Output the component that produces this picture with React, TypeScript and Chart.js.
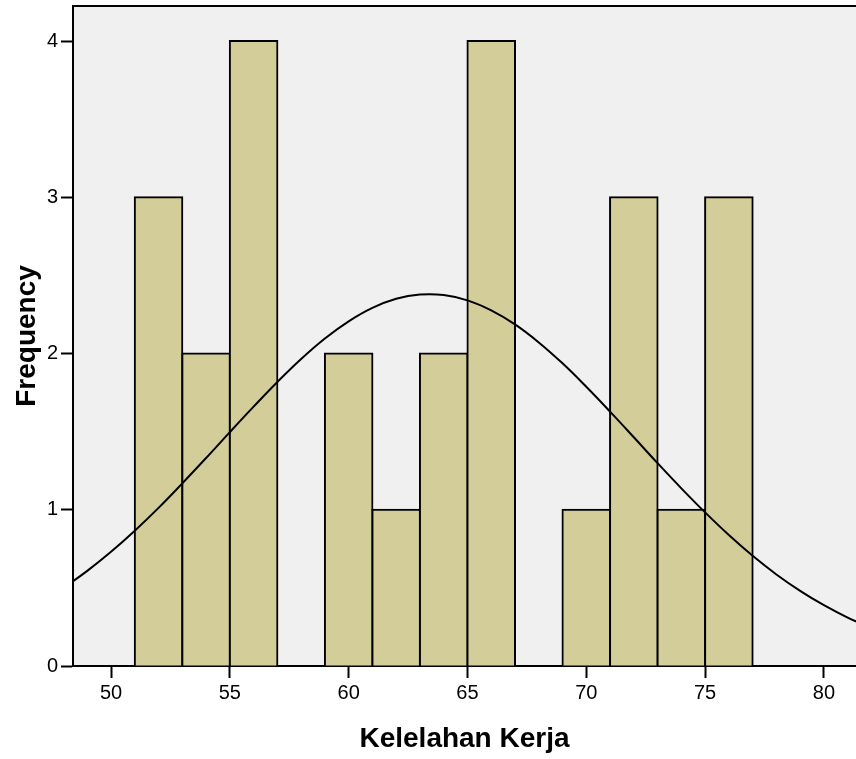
import React, { useEffect, useRef } from "react";
import { Chart, registerables } from "chart.js";

Chart.register(...registerables);

// Histogram bins (centre of each 2-unit bin) and frequencies
const binCenters = [52, 54, 56, 60, 62, 64, 66, 70, 72, 74, 76];
const frequencies = [3, 2, 4, 2, 1, 2, 4, 1, 3, 1, 3];

// Normal curve
const curveX = [48, 49, 50, 51, 52, 53, 54, 55, 56, 57, 58, 59, 60, 61, 62, 63, 64, 65, 66, 67, 68, 69, 70, 71, 72, 73, 74, 75, 76, 77, 78, 79, 80, 81, 82];
const curveY = [0.5, 0.609, 0.731, 0.866, 1.012, 1.169, 1.331, 1.497, 1.66, 1.818, 1.965, 2.096, 2.206, 2.292, 2.35, 2.377, 2.374, 2.34, 2.276, 2.186, 2.071, 1.937, 1.787, 1.628, 1.464, 1.298, 1.137, 0.983, 0.838, 0.705, 0.586, 0.481, 0.389, 0.31, 0.245];

const xTicks = [50, 55, 60, 65, 70, 75, 80];
const yTicks = [0, 1, 2, 3, 4];

const xTitle = "Kelelahan Kerja";
const yTitle = "Frequency";

const FONT = "'Liberation Sans', Arial, Helvetica, sans-serif";

const plotBg = {
  id: "plotBg",
  beforeDraw(chart: any) {
    const { ctx, chartArea } = chart;
    ctx.save();
    ctx.fillStyle = "#f0f0f0";
    ctx.fillRect(chartArea.left, chartArea.top, chartArea.right - chartArea.left, chartArea.bottom - chartArea.top);
    ctx.restore();
  },
  afterDraw(chart: any) {
    const { ctx, chartArea } = chart;
    ctx.save();
    ctx.strokeStyle = "#000";
    ctx.lineWidth = 2;
    ctx.beginPath();
    ctx.moveTo(chartArea.left - 1, chartArea.top);
    ctx.lineTo(chartArea.right, chartArea.top);
    ctx.stroke();
    ctx.restore();
  },
};

export default function App() {
  const ref = useRef<HTMLCanvasElement | null>(null);

  useEffect(() => {
    if (!ref.current) return;
    const chart = new Chart(ref.current, {
      type: "bar",
      data: {
        datasets: [
          {
            type: "line",
            data: curveX.map((x, i) => ({ x, y: curveY[i] })),
            borderColor: "#000",
            borderWidth: 2,
            pointRadius: 0,
            tension: 0.4,
            fill: false,
            order: 0,
          } as any,
          {
            type: "bar",
            data: binCenters.map((x, i) => ({ x, y: frequencies[i] })),
            backgroundColor: "#d3ce99",
            borderColor: "#000",
            borderWidth: 2,
            inflateAmount: 1,
            barPercentage: 1,
            categoryPercentage: 1,
            grouped: false,
            order: 1,
          } as any,
        ],
      },
      options: {
        animation: false,
        responsive: false,
        devicePixelRatio: 1,
        layout: { padding: { top: 6, right: 0, left: 0, bottom: 0 } },
        plugins: {
          legend: { display: false },
          tooltip: { enabled: false },
        },
        scales: {
          x: {
            type: "linear",
            min: 48.4,
            max: 81.35,
            offset: false,
            afterBuildTicks: (s: any) => {
              s.ticks = xTicks.map((v) => ({ value: v }));
            },
            afterFit: (s: any) => {
              s.height = 93;
              s.paddingLeft = 0;
              s.paddingRight = 0;
            },
            grid: {
              offset: false,
              drawOnChartArea: false,
              drawTicks: true,
              tickLength: 12,
              tickColor: "#000",
              tickWidth: 2,
            },
            border: { display: true, color: "#000", width: 2 },
            ticks: {
              color: "#000",
              font: { family: FONT, size: 20 },
              padding: 3,
              maxRotation: 0,
              autoSkip: false,
            },
            title: {
              display: true,
              text: xTitle,
              color: "#000",
              font: { family: FONT, size: 28, weight: "bold" },
              padding: { top: 0, bottom: 3 },
            },
          },
          y: {
            type: "linear",
            min: 0,
            max: 4.224,
            afterBuildTicks: (s: any) => {
              s.ticks = yTicks.map((v) => ({ value: v }));
            },
            afterFit: (s: any) => {
              s.width = 73;
              s.paddingTop = 0;
              s.paddingBottom = 0;
            },
            grid: {
              drawOnChartArea: false,
              drawTicks: true,
              tickLength: 12,
              tickColor: "#000",
              tickWidth: 2,
            },
            border: { display: true, color: "#000", width: 2 },
            ticks: {
              color: "#000",
              font: { family: FONT, size: 20 },
              padding: 3,
              autoSkip: false,
            },
            title: {
              display: true,
              text: yTitle,
              color: "#000",
              font: { family: FONT, size: 28, weight: "bold" },
              padding: { top: 10, bottom: 0 },
            },
          },
        },
      } as any,
      plugins: [plotBg],
    });
    return () => chart.destroy();
  }, []);

  return (
    <div style={{ position: "absolute", left: 0, top: 0, width: 856, height: 759, background: "#fff" }}>
      <canvas ref={ref} width={856} height={759} style={{ width: 856, height: 759, display: "block" }} />
    </div>
  );
}
